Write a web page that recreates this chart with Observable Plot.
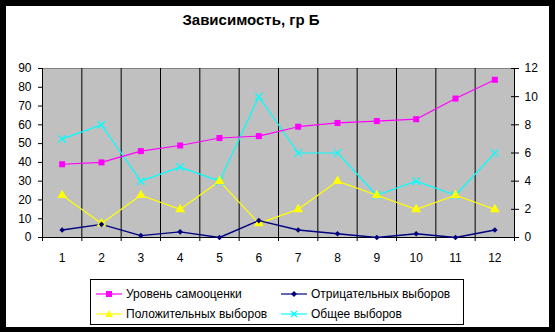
<!DOCTYPE html>
<html>
<head>
<meta charset="utf-8">
<script src="https://cdn.jsdelivr.net/npm/d3@7"></script>
<script src="https://cdn.jsdelivr.net/npm/@observablehq/plot@0.6"></script>
<style>
  html, body { margin: 0; padding: 0; background: #000; }
  body { width: 555px; height: 332px; position: relative; overflow: hidden; font-family: "Liberation Sans", Arial, sans-serif; }
  #paper { position: absolute; left: 6px; top: 6px; width: 543px; height: 321px; background: #fff; }
  #chart { position: absolute; left: 0; top: 0; }
  #title { position: absolute; left: 0; top: 11px; width: 502px; text-align: center; font-weight: bold; font-size: 15px; line-height: 18px; color: #000; }
  #legend { position: absolute; left: 90px; top: 279px; width: 374px; height: 46px; box-sizing: border-box; border: 1px solid #000; background: #fff; }
  .li { position: absolute; font-size: 12px; line-height: 14px; color: #000; white-space: nowrap; }
  .li svg { position: absolute; left: 0; top: 0; }
  .li span { position: absolute; left: 30px; top: 0; }
</style>
</head>
<body>
<div id="paper"></div>
<div id="chart"></div>
<div id="title">Зависимость, гр Б</div>
<div id="legend"></div>
<script>
// ---- data ----
const categories = [1, 2, 3, 4, 5, 6, 7, 8, 9, 10, 11, 12];
const selfEsteem = [39, 40, 46, 49, 53, 54, 59, 61, 62, 63, 74, 84];      // left axis
const negativeChoices = [4, 7, 1, 3, 0, 9, 4, 2, 0, 2, 0, 4];             // left axis
const positiveChoices = [3, 1, 3, 2, 4, 1, 2, 4, 3, 2, 3, 2];             // right axis
const totalChoices = [7, 8, 4, 5, 4, 10, 6, 6, 3, 4, 3, 6];               // right axis
const leftTicks = [0, 10, 20, 30, 40, 50, 60, 70, 80, 90];
const rightTicks = [0, 2, 4, 6, 8, 10, 12];
const seriesNames = ["Уровень самооценки", "Отрицательных выборов", "Положительных выборов", "Общее выборов"];
const titleText = "Зависимость, гр Б";

// ---- derived ----
const k = 90 / 12; // right-axis to left-axis ratio
const rows = categories.map((c, i) => ({
  c,
  s: selfEsteem[i],
  n: negativeChoices[i],
  p: positiveChoices[i] * k,
  t: totalChoices[i] * k
}));
const bounds = d3.range(0, categories.length + 1).map(i => i + 0.5);
const colors = { s: "#ff00ff", n: "#000080", p: "#ffff00", t: "#00ffff" };

const chart = Plot.plot({
  width: 555,
  height: 332,
  marginLeft: 42,
  marginRight: 41,
  marginTop: 68,
  marginBottom: 95,
  x: { type: "linear", domain: [0.5, 12.5] },
  y: { domain: [0, 90] },
  style: { background: "transparent", fontFamily: "'Liberation Sans', Arial, sans-serif", fontSize: "12px", color: "#000", overflow: "visible" },
  marks: [
    Plot.frame({ fill: "#c0c0c0", stroke: "#808080" }),
    Plot.gridX(bounds, { stroke: "#000", strokeOpacity: 1 }),
    Plot.ruleY([0], { stroke: "#000" }),
    Plot.ruleX([0.5, 12.5], { stroke: "#000" }),
    Plot.axisY({ ticks: leftTicks, anchor: "left", tickSize: 4, tickPadding: 7, label: null, fontSize: 12 }),
    Plot.axisY({ ticks: rightTicks.map(d => d * k), anchor: "right", tickSize: 4, tickPadding: 6, tickFormat: d => d / k, label: null, fontSize: 12 }),
    Plot.axisY({ ticks: rightTicks.map(d => d * k), anchor: "right", tickSize: 4, dx: -4, tickFormat: () => "", label: null }),
    Plot.axisX({ ticks: bounds, tickSize: 4, tickFormat: () => "", label: null }),
    Plot.axisX({ ticks: categories, tickSize: 0, tickPadding: 16, label: null, fontSize: 12 }),
    Plot.line(rows, { x: "c", y: "t", stroke: colors.t, strokeWidth: 1.2 }),
    Plot.line(rows, { x: "c", y: "p", stroke: colors.p, strokeWidth: 1.2 }),
    Plot.line(rows, { x: "c", y: "s", stroke: colors.s, strokeWidth: 1.2 }),
    Plot.line(rows, { x: "c", y: "n", stroke: colors.n, strokeWidth: 1.4 }),
    Plot.dot(rows, { x: "c", y: "t", symbol: "times", r: 3.6, stroke: colors.t, strokeWidth: 1.2 }),
    Plot.dot(rows, { x: "c", y: "p", symbol: "triangle", r: 3.6, fill: colors.p, stroke: null }),
    Plot.dot(rows, { x: "c", y: "s", symbol: "square", r: 3.4, fill: colors.s, stroke: null }),
    Plot.dot(rows, { x: "c", y: "n", symbol: "diamond2", r: 2.5, fill: colors.n, stroke: null })
  ]
});
document.getElementById("chart").appendChild(chart);
document.getElementById("title").textContent = titleText;

// ---- legend ----
const legend = document.getElementById("legend");
const items = [
  { name: seriesNames[0], color: colors.s, sym: "square", x: 5, y: 7 },
  { name: seriesNames[1], color: colors.n, sym: "diamond", x: 190, y: 7 },
  { name: seriesNames[2], color: colors.p, sym: "triangle", x: 5, y: 27 },
  { name: seriesNames[3], color: colors.t, sym: "times", x: 190, y: 27 }
];
for (const it of items) {
  const div = document.createElement("div");
  div.className = "li";
  div.style.left = it.x + "px";
  div.style.top = it.y + "px";
  let m = "";
  const cx = 13, cy = 7;
  if (it.sym === "square") m = `<rect x="${cx-3}" y="${cy-3}" width="6" height="6" fill="${it.color}"/>`;
  if (it.sym === "diamond") m = `<path d="M${cx},${cy-3}L${cx+3},${cy}L${cx},${cy+3}L${cx-3},${cy}Z" fill="${it.color}"/>`;
  if (it.sym === "triangle") m = `<path d="M${cx},${cy-4}L${cx+4},${cy+3}L${cx-4},${cy+3}Z" fill="${it.color}"/>`;
  if (it.sym === "times") m = `<path d="M${cx-3},${cy-3}L${cx+3},${cy+3}M${cx+3},${cy-3}L${cx-3},${cy+3}" stroke="${it.color}" stroke-width="1.2"/>`;
  div.innerHTML = `<svg width="27" height="14"><line x1="0" x2="26" y1="${cy}" y2="${cy}" stroke="${it.color}" stroke-width="1.2"/>${m}</svg><span>${it.name}</span>`;
  legend.appendChild(div);
}
</script>
</body>
</html>
